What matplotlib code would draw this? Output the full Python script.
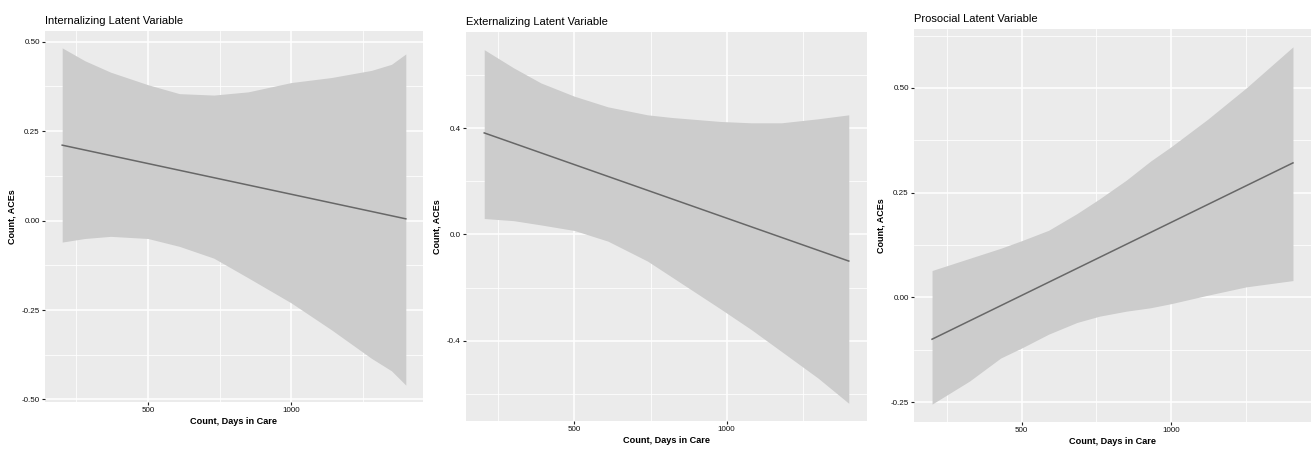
import matplotlib
matplotlib.use('Agg')
import matplotlib.pyplot as plt

plt.rcParams['font.family'] = ['Liberation Sans', 'DejaVu Sans']

TITLES = ['Internalizing Latent Variable', 'Externalizing Latent Variable',
          'Prosocial Latent Variable']
X_LABEL = 'Count, Days in Care'
Y_LABEL = 'Count, ACEs'

# Internalizing
INT_DAYS = [201, 280, 370, 500, 610, 730, 850, 1000, 1140, 1280, 1350, 1400]
INT_UPPER = [0.483, 0.447, 0.415, 0.38, 0.355, 0.351, 0.36, 0.386, 0.40, 0.42, 0.437, 0.466]
INT_LOWER = [-0.06, -0.05, -0.044, -0.05, -0.072, -0.105, -0.16, -0.23, -0.305, -0.385, -0.42, -0.46]
INT_LINE_X = [201, 1400]
INT_LINE_Y = [0.211, 0.005]
INT_YTICKS = [-0.50, -0.25, 0.00, 0.25, 0.50]
INT_YLABELS = ['-0.50', '-0.25', '0.00', '0.25', '0.50']

# Externalizing
EXT_DAYS = [204, 300, 390, 500, 610, 740, 820, 980, 1080, 1180, 1300, 1401]
EXT_UPPER = [0.695, 0.627, 0.57, 0.52, 0.48, 0.45, 0.44, 0.425, 0.42, 0.42, 0.435, 0.45]
EXT_LOWER = [0.06, 0.052, 0.036, 0.015, -0.025, -0.10, -0.16, -0.28, -0.357, -0.44, -0.54, -0.635]
EXT_LINE_X = [204, 1401]
EXT_LINE_Y = [0.382, -0.10]
EXT_YTICKS = [-0.4, 0.0, 0.4]
EXT_YLABELS = ['-0.4', '0.0', '0.4']

# Prosocial
PRO_DAYS = [201, 326, 430, 503, 590, 685, 760, 850, 930, 1000, 1121, 1250, 1406]
PRO_UPPER = [0.064, 0.093, 0.117, 0.136, 0.16, 0.20, 0.235, 0.28, 0.325, 0.36, 0.425, 0.50, 0.598]
PRO_LOWER = [-0.255, -0.20, -0.145, -0.12, -0.088, -0.06, -0.045, -0.033, -0.025, -0.015, 0.005, 0.025, 0.04]
PRO_LINE_X = [201, 1406]
PRO_LINE_Y = [-0.10, 0.321]
PRO_YTICKS = [-0.25, 0.00, 0.25, 0.50]
PRO_YLABELS = ['-0.25', '0.00', '0.25', '0.50']

X_TICKS = [500, 1000]
X_MINOR = [250, 750, 1250]

BG = '#EBEBEB'
RIBBON = '#CCCCCC'
LINE = '#676767'

# axes boxes in pixels: left, right, top, bottom
BOXES = [(45, 423, 31, 402), (466, 867, 32, 421), (914, 1311, 29, 422)]
W, H = 1311, 450


def padded(lo, hi, frac=0.05):
    span = hi - lo
    return lo - span * frac, hi + span * frac


def minor_between(ticks, lim):
    step = ticks[1] - ticks[0]
    out = []
    t = ticks[0] - step / 2
    while t < lim[1]:
        if t > lim[0] and t not in ticks:
            out.append(t)
        t += step / 2
    return out


def draw_panel(ax, title, days, upper, lower, line_x, line_y, yticks, ylabels):
    ax.set_facecolor(BG)
    for s in ax.spines.values():
        s.set_visible(False)
    xlim = padded(min(days), max(days))
    ylim = padded(min(lower), max(upper))
    ax.set_xlim(xlim)
    ax.set_ylim(ylim)

    ax.set_xticks(X_TICKS)
    ax.set_xticklabels([str(t) for t in X_TICKS])
    ax.set_xticks(X_MINOR, minor=True)
    ax.set_yticks(yticks)
    ax.set_yticklabels(ylabels)
    ax.set_yticks(minor_between(yticks, ylim), minor=True)

    ax.grid(which='major', color='white', linewidth=1.1)
    ax.grid(which='minor', color='white', linewidth=0.55)
    ax.set_axisbelow(True)
    ax.tick_params(which='major', length=2.2, width=0.8, color='#222222',
                   labelsize=5.8, labelcolor='#111111', pad=1.5)
    ax.tick_params(which='minor', length=0)

    ax.fill_between(days, lower, upper, color=RIBBON, linewidth=0, zorder=2)
    ax.plot(line_x, line_y, color=LINE, linewidth=1.1, zorder=3)

    ax.set_title(title, loc='left', fontsize=8, pad=5, color='black')
    ax.set_xlabel(X_LABEL, fontsize=6.6, fontweight='bold', labelpad=2)
    ax.set_ylabel(Y_LABEL, fontsize=6.5, fontweight='bold', labelpad=4)


fig = plt.figure(figsize=(W / 100, H / 100), dpi=100)
axes = []
for l, r, t, b in BOXES:
    axes.append(fig.add_axes([l / W, (H - b) / H, (r - l) / W, (b - t) / H]))

draw_panel(axes[0], TITLES[0], INT_DAYS, INT_UPPER, INT_LOWER,
           INT_LINE_X, INT_LINE_Y, INT_YTICKS, INT_YLABELS)
draw_panel(axes[1], TITLES[1], EXT_DAYS, EXT_UPPER, EXT_LOWER,
           EXT_LINE_X, EXT_LINE_Y, EXT_YTICKS, EXT_YLABELS)
draw_panel(axes[2], TITLES[2], PRO_DAYS, PRO_UPPER, PRO_LOWER,
           PRO_LINE_X, PRO_LINE_Y, PRO_YTICKS, PRO_YLABELS)

fig.savefig('out.png', dpi=100)
